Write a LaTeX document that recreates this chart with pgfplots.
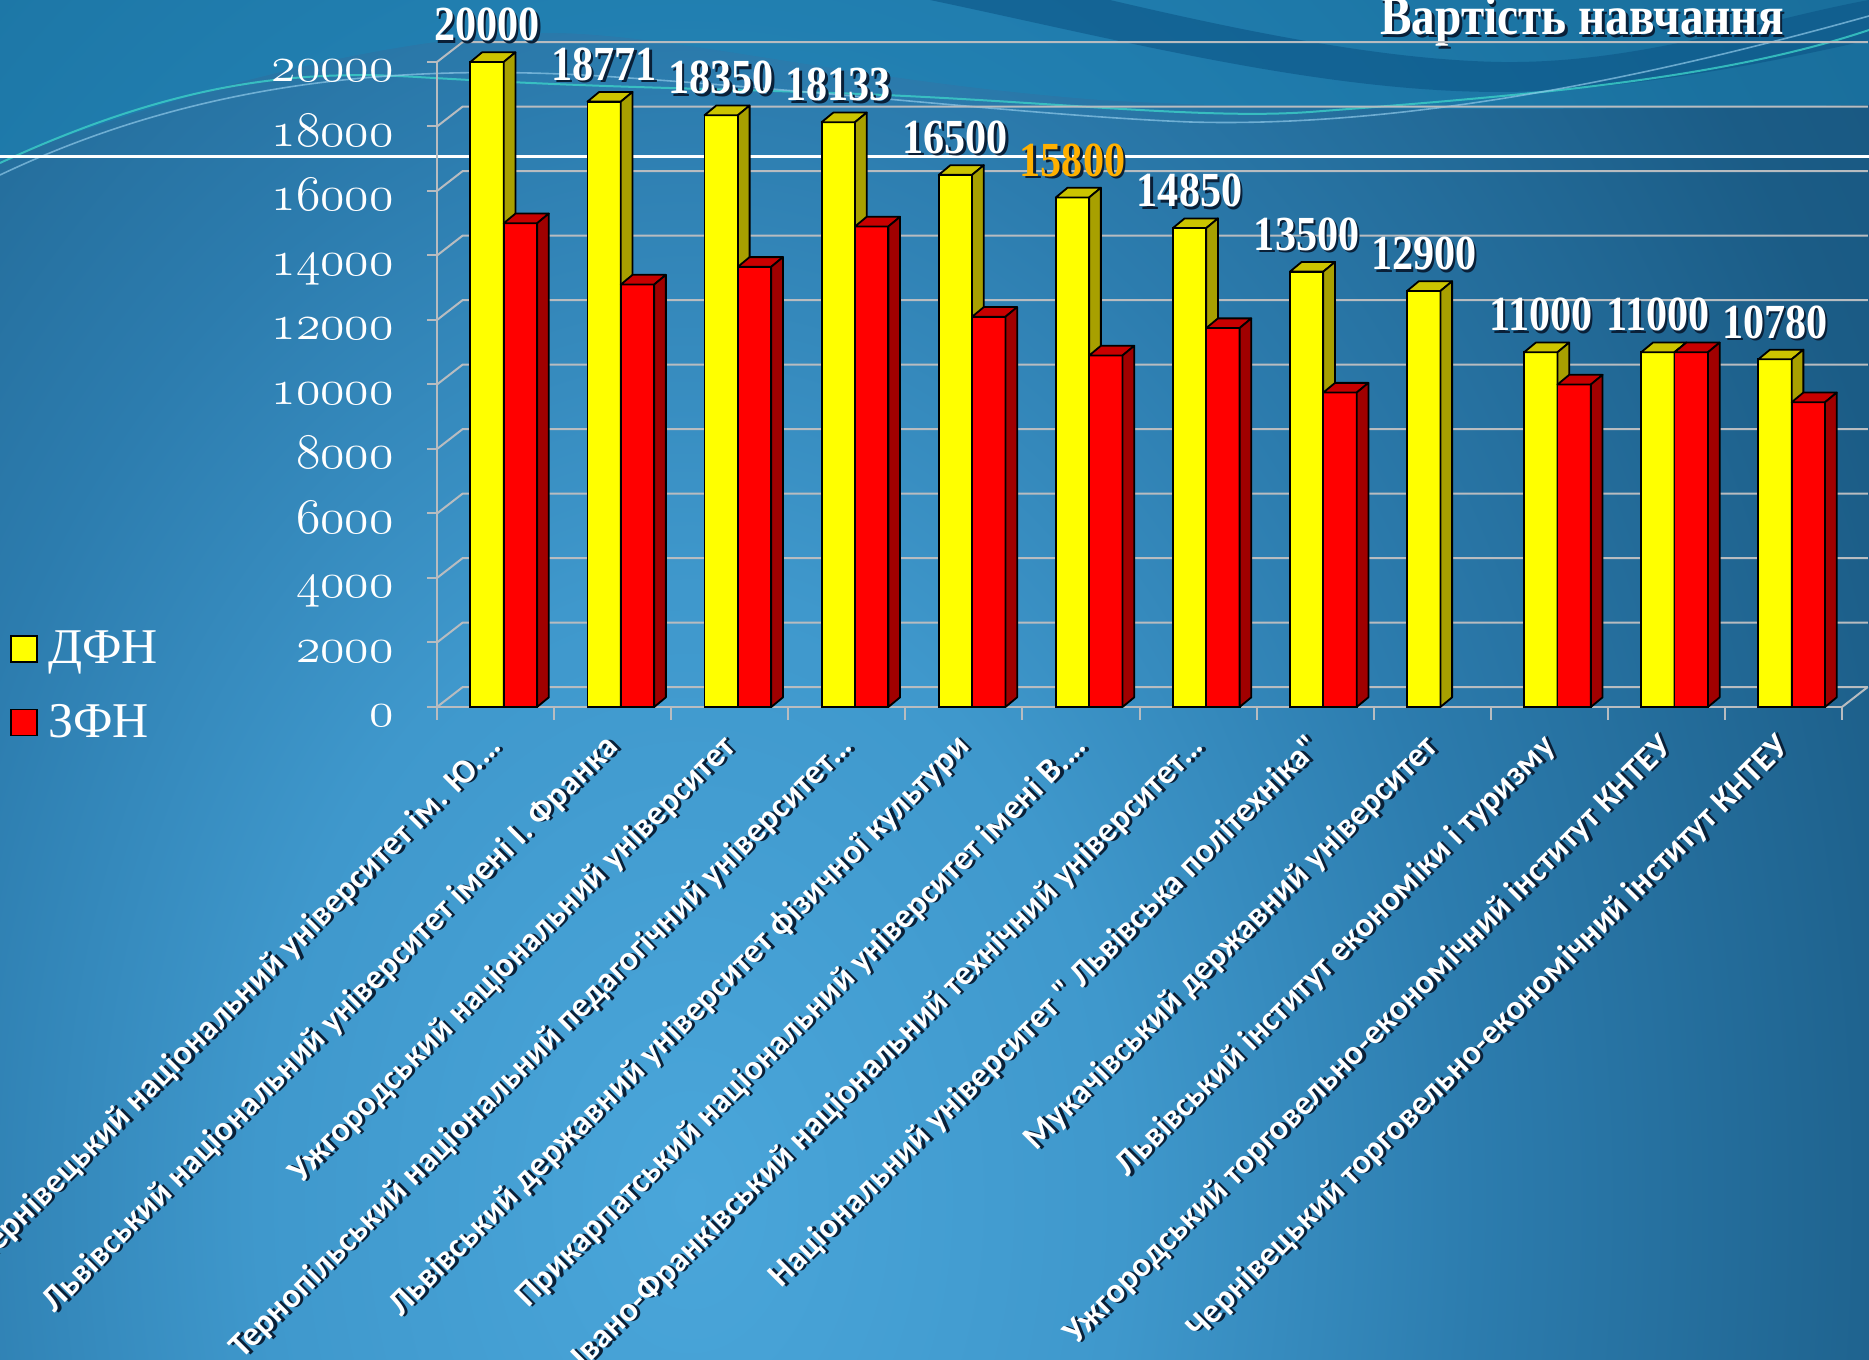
\documentclass[border=0pt]{standalone}
\usepackage{fontspec}
\usepackage{pgfplots}
\usepackage{pgfplotstable}
\pgfplotsset{compat=1.18}
\newfontfamily\labfont[FakeStretch=0.86]{Liberation Serif}
\newfontfamily\legfont{Liberation Serif}
\newfontfamily\xfont{Carlito}
\newcommand\osn[1]{{\usefont{OML}{lmm}{m}{it}#1}}
\definecolor{bgA}{HTML}{4AA6DA}
\definecolor{bgB}{HTML}{3F98CC}
\definecolor{bgC}{HTML}{2C7CAE}
\definecolor{bgD}{HTML}{1B5C86}
\definecolor{bgE}{HTML}{124C74}
\definecolor{bgF}{HTML}{0B4168}
\definecolor{bgG}{HTML}{0A3A5E}
\definecolor{bgH}{HTML}{082E4E}
\definecolor{wave}{HTML}{1A86B8}
\definecolor{wavedark}{HTML}{0C5586}
\definecolor{cyanline}{HTML}{3CD0C8}
\definecolor{lightline}{HTML}{8EC8E8}
\definecolor{yfront}{HTML}{FFFF00}
\definecolor{ytop}{HTML}{CCC400}
\definecolor{yside}{HTML}{A8A000}
\definecolor{rfront}{HTML}{FF0000}
\definecolor{rtop}{HTML}{C80000}
\definecolor{rside}{HTML}{A00000}
\definecolor{gridc}{HTML}{B8BCC0}
\definecolor{lblorange}{HTML}{FFB000}
\definecolor{shadowc}{HTML}{0A2038}
\newcommand\sh[1]{\leavevmode\rlap{\kern1.2pt\raisebox{-1.2pt}{\textcolor{shadowc}{#1}}}#1}
\pgfdeclareradialshading{bgshade}{\pgfpointorigin}{color(0bp)=(bgA); color(4.5bp)=(bgB); color(8.2bp)=(bgC); color(13.5bp)=(bgD); color(20bp)=(bgE); color(25bp)=(bgF); color(33.3bp)=(bgG); color(50bp)=(bgH)}

\pgfplotstableread{
x dfn zfn
0 20000 15000
1 18771 13100
2 18350 13650
3 18133 14900
4 16500 12100
5 15800 10900
6 14850 11750
7 13500 9750
8 12900 nan
9 11000 10000
10 11000 11000
11 10780 9450
}\data

\begin{document}
\begin{tikzpicture}
\begin{scope}
\clip (0pt,0pt) rectangle (934.5pt,680pt);
\fill[bgH] (0pt,0pt) rectangle (934.5pt,680pt);
\shade[shading=bgshade] (345pt,80pt) ellipse (1200pt and 1700pt);
% slide template waves
\fill[wave, opacity=0.5] (0pt,680pt) -- (934.5pt,680pt) -- (934.5pt,627.5pt)
  .. controls (800pt,625pt) and (650pt,624pt) .. (550pt,630pt)
  .. controls (420pt,640pt) and (330pt,665pt) .. (267.5pt,663.5pt)
  .. controls (180pt,660pt) and (80pt,630pt) .. (0pt,600pt) -- cycle;
\fill[wavedark, opacity=0.6] (555pt,680pt) .. controls (640pt,660pt) and (700pt,650pt) .. (750pt,649pt)
  .. controls (820pt,648pt) and (880pt,670pt) .. (934.5pt,680pt) -- (934.5pt,660pt)
  .. controls (870pt,645pt) and (800pt,634pt) .. (750pt,634pt)
  .. controls (660pt,634pt) and (560pt,660pt) .. (465pt,680pt) -- cycle;
\draw[cyanline, line width=1pt, opacity=0.8] (0pt,598.5pt) .. controls (90pt,640pt) and (150pt,645pt) .. (208.5pt,641.5pt)
  .. controls (300pt,636pt) and (350pt,636pt) .. (416.5pt,633.5pt)
  .. controls (520pt,630pt) and (600pt,620pt) .. (655pt,624pt)
  .. controls (760pt,632pt) and (860pt,640pt) .. (934.5pt,665pt);
\draw[lightline, line width=0.8pt, opacity=0.7] (0pt,592.5pt) .. controls (100pt,640pt) and (200pt,648pt) .. (300pt,642pt)
  .. controls (420pt,634pt) and (520pt,622pt) .. (595pt,619pt)
  .. controls (700pt,616pt) and (820pt,640pt) .. (934.5pt,672pt);
\draw[white, line width=1.5pt] (0pt,601.5pt) -- (934.5pt,601.5pt);
\node[anchor=base west, inner sep=0pt, text=white] at (690pt,662.5pt)
  {\labfont\bfseries\fontsize{27.5}{30}\selectfont\sh{Вартість навчання}};

\begin{axis}[
  at={(218.5pt,326.5pt)}, anchor=south west,
  scale only axis, width=702.5pt, height=322.5pt,
  xmin=-0.5, xmax=11.5, ymin=0, ymax=20000,
  clip=false,
  axis x line*=bottom, axis y line*=left,
  axis line style={draw=gridc, line width=1pt},
  xtick={0,...,11},
  xticklabels={
    \sh{Чернівецький національний університет ім. Ю.…},
    \sh{Львівський національний університет імені І. Франка},
    \sh{Ужгородський національний університет},
    \sh{Тернопільський національний педагогічний університет…},
    \sh{Львівський державний університет фізичної культури},
    \sh{Прикарпатський національний університет імені В.…},
    \sh{Івано-Франківський національний технічний університет…},
    \sh{Національний університет " Львівська політехніка"},
    \sh{Мукачівський державний університет},
    \sh{Львівський інститут економіки і туризму},
    \sh{Ужгородський торговельно-економічний інститут КНТЕУ},
    \sh{Чернівецький торговельно-економічний інститут КНТЕУ}},
  xtick style={draw=none},
  ytick={0,2000,4000,6000,8000,10000,12000,14000,16000,18000,20000},
  yticklabels={\osn{0},\osn{2000},\osn{4000},\osn{6000},\osn{8000},\osn{10000},\osn{12000},\osn{14000},\osn{16000},\osn{18000},\osn{20000}},
  scaled y ticks=false,
  ytick style={draw=gridc, line width=1pt},
  tick align=outside, major tick length=5pt,
  yticklabel style={font=\fontsize{25}{30}\selectfont, text=white, inner sep=0pt, text height=10.75pt, text depth=0pt, xshift=-16.5pt, yshift=-4.5pt},
  xticklabel style={font=\xfont\bfseries\fontsize{17.2}{20}\selectfont, text=white, inner sep=0pt, xshift=-5pt, yshift=-7pt, rotate=45, anchor=north east},
  legend style={at={(-0.304,0.033)}, anchor=west, draw=none, fill=none, inner sep=0pt,
    font=\legfont\fontsize{25}{30}\selectfont, text=white, row sep=15pt,
    /tikz/every odd column/.append style={column sep=3pt}},
  legend cell align=left,
  legend image code/.code={\draw[#1] (0pt,-6.5pt) rectangle (13pt,6.5pt);},
]
\addlegendimage{fill=yfront, draw=black, line width=0.9pt}
\addlegendentry{ДФН}
\addlegendimage{fill=rfront, draw=black, line width=0.9pt}
\addlegendentry{ЗФН}

% back wall gridlines and left wall diagonals
\pgfplotsinvokeforeach{0,2000,4000,6000,8000,10000,12000,14000,16000,18000,20000}{%
  \edef\gy{\the\numexpr#1+620\relax}%
  \edef\tmp{\noexpand\addplot[gridc, line width=1pt, forget plot] coordinates {(-0.5,#1) (-0.28,\gy) (11.72,\gy)};}%
  \tmp
}
\addplot[gridc, line width=1pt, forget plot] coordinates {(11.5,0) (11.72,620)};
% category boundary ticks on the front floor edge
\pgfplotsinvokeforeach{-0.5,0.5,1.5,2.5,3.5,4.5,5.5,6.5,7.5,8.5,9.5,10.5,11.5}{%
  \addplot[gridc, line width=1pt, forget plot] coordinates {(#1,0) (#1,-400)};
}

% yellow bars
\addplot[ybar, bar width=0.285, bar shift=-0.0725, fill=yfront, draw=black, line width=0.9pt, forget plot]
  table[x=x, y=dfn]{\data};
\pgfplotsinvokeforeach{0,1,2,3,4,5,6,7,8,9,10,11}{%
  \pgfplotstablegetelem{#1}{dfn}\of\data
  \edef\v{\pgfplotsretval}%
  \edef\vt{\the\numexpr\v+300\relax}%
  \pgfmathsetmacro\xa{#1-0.215}%
  \pgfmathsetmacro\xb{#1+0.07}%
  \pgfmathsetmacro\xc{#1+0.17}%
  \pgfmathsetmacro\xd{#1-0.115}%
  \edef\tmp{%
    \noexpand\addplot[fill=ytop, draw=black, line width=0.9pt, line join=round, forget plot] coordinates {(\xa,\v) (\xb,\v) (\xc,\vt) (\xd,\vt)} -- cycle;%
    \noexpand\addplot[fill=yside, draw=black, line width=0.9pt, line join=round, forget plot] coordinates {(\xb,0) (\xb,\v) (\xc,\vt) (\xc,300)} -- cycle;%
  }\tmp
}

% red bars
\addplot[ybar, bar width=0.285, bar shift=0.2125, fill=rfront, draw=black, line width=0.9pt, forget plot]
  table[x=x, y=zfn]{\data};
\pgfplotsinvokeforeach{0,1,2,3,4,5,6,7,9,10,11}{%
  \pgfplotstablegetelem{#1}{zfn}\of\data
  \edef\v{\pgfplotsretval}%
  \edef\vt{\the\numexpr\v+300\relax}%
  \pgfmathsetmacro\xa{#1+0.07}%
  \pgfmathsetmacro\xb{#1+0.355}%
  \pgfmathsetmacro\xc{#1+0.455}%
  \pgfmathsetmacro\xd{#1+0.17}%
  \edef\tmp{%
    \noexpand\addplot[fill=rtop, draw=black, line width=0.9pt, line join=round, forget plot] coordinates {(\xa,\v) (\xb,\v) (\xc,\vt) (\xd,\vt)} -- cycle;%
    \noexpand\addplot[fill=rside, draw=black, line width=0.9pt, line join=round, forget plot] coordinates {(\xb,0) (\xb,\v) (\xc,\vt) (\xc,300)} -- cycle;%
  }\tmp
}

% value labels
\addplot[draw=none, mark=none, forget plot, point meta=explicit symbolic,
  nodes near coords={\sh{\pgfplotspointmeta}},
  every node near coord/.append style={font=\labfont\bfseries\fontsize{24.5}{28}\selectfont, text=white, anchor=south, inner sep=0pt, yshift=9pt},
  x filter/.expression={\coordindex==5 ? nan : x}]
  table[x expr=\thisrow{x}-0.0725, y=dfn, meta=dfn]{\data};
\addplot[draw=none, mark=none, forget plot, point meta=explicit symbolic,
  nodes near coords={\sh{\pgfplotspointmeta}},
  every node near coord/.append style={font=\labfont\bfseries\fontsize{24.5}{28}\selectfont, text=lblorange, anchor=south, inner sep=0pt, yshift=9pt},
  x filter/.expression={\coordindex==5 ? x : nan}]
  table[x expr=\thisrow{x}-0.0725, y=dfn, meta=dfn]{\data};
\end{axis}
\end{scope}
\pgfresetboundingbox
\useasboundingbox (0pt,0pt) rectangle (934.5pt,680pt);
\end{tikzpicture}
\end{document}
